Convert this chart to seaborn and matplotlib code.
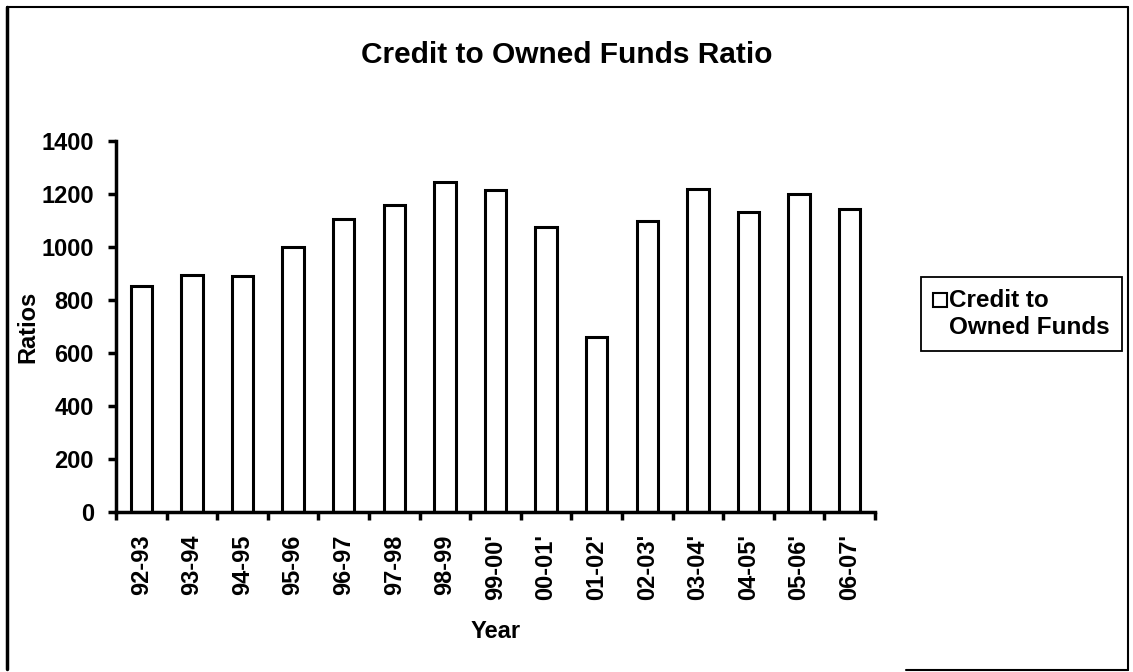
import matplotlib
matplotlib.use("Agg")
import matplotlib.pyplot as plt
from matplotlib.patches import Patch, Rectangle
from matplotlib.lines import Line2D
from matplotlib.legend_handler import HandlerPatch
from matplotlib.ticker import FixedLocator, MultipleLocator
import seaborn as sns
import pandas as pd
import numpy as np

# Financial years and credit-to-owned-funds ratios
years = ["92-93", "93-94", "94-95", "95-96", "96-97", "97-98", "98-99",
         "99-00'", "00-01'", "01-02'", "02-03'", "03-04'", "04-05'",
         "05-06'", "06-07'"]
ratios = [853, 894, 890, 1001, 1107, 1158, 1246, 1215, 1075, 660,
          1099, 1220, 1132, 1200, 1145]

series_label = "Credit to\nOwned Funds"
title = "Credit to Owned Funds Ratio"

sns.set_style("ticks")
plt.rcParams["font.family"] = ["Liberation Sans", "DejaVu Sans"]
plt.rcParams.update({"text.color": "black", "axes.labelcolor": "black",
                     "xtick.color": "black", "ytick.color": "black",
                     "axes.edgecolor": "black"})

df = pd.DataFrame({"Year": years, "Ratios": ratios})

fig = plt.figure(figsize=(11.33, 6.72), dpi=100)
ax = fig.add_axes([0.1024, 0.2381, 0.6699, 0.5521])

sns.barplot(data=df, x="Year", y="Ratios", ax=ax, width=0.42,
            color="white", edgecolor="black", linewidth=2.2,
            saturation=1, errorbar=None)

n = len(years)
ax.set_xlim(-0.5, n - 0.5)
ax.set_ylim(0, 1400)
ax.yaxis.set_major_locator(MultipleLocator(200))

# category labels centred, tick marks at the category boundaries
ax.tick_params(axis="x", which="major", length=0, pad=16)
ax.xaxis.set_minor_locator(FixedLocator(np.arange(-0.5, n, 1.0)))
ax.tick_params(axis="x", which="minor", length=6, width=2.5, color="black",
               direction="out")
ax.tick_params(axis="y", which="major", length=6, width=2.5, color="black",
               direction="out", pad=10)

for lab in ax.get_xticklabels():
    lab.set_rotation(90)
    lab.set_fontsize(17)
    lab.set_fontweight("bold")
for lab in ax.get_yticklabels():
    lab.set_fontsize(17)
    lab.set_fontweight("bold")

sns.despine(ax=ax, top=True, right=True)
for side in ("left", "bottom"):
    ax.spines[side].set_linewidth(2.5)
    ax.spines[side].set_color("black")

ax.set_xlabel("Year", fontsize=17, fontweight="bold", labelpad=14)
ax.set_ylabel("Ratios", fontsize=17, fontweight="bold", labelpad=1)

fig.text(0.5, 0.918, title, ha="center", va="center", fontsize=21.5,
         fontweight="bold", color="black")


# legend key sits beside the first line of the two-line label
def top_aligned_square(legend, orig_handle, xdescent, ydescent,
                       width, height, fontsize):
    side = width
    return Rectangle((-xdescent, -ydescent + 0.62 * fontsize), side, side)


handle = Patch(facecolor="white", edgecolor="black", linewidth=1.5)
leg = fig.legend([handle], [series_label], loc="upper left",
                 bbox_to_anchor=(0.813, 0.5878), borderaxespad=0,
                 frameon=True, fancybox=False, edgecolor="black",
                 framealpha=1, handlelength=0.55, handleheight=0.55,
                 handletextpad=0.1, borderpad=0.5, labelspacing=0.2,
                 handler_map={Patch: HandlerPatch(patch_func=top_aligned_square)},
                 prop={"size": 17.5, "weight": "bold"})
leg.get_frame().set_linewidth(1.3)
leg.get_frame().set_facecolor("white")
for txt in leg.get_texts():
    txt.set_color("black")

# outer chart frame
frame_kw = dict(color="black", transform=fig.transFigure, clip_on=False)
fig.add_artist(Line2D([0.0062, 0.0062], [0.005, 0.99], linewidth=2.5, **frame_kw))
fig.add_artist(Line2D([0.0062, 0.996], [0.99, 0.99], linewidth=1.5, **frame_kw))
fig.add_artist(Line2D([0.996, 0.996], [0.003, 0.99], linewidth=1.5, **frame_kw))
fig.add_artist(Line2D([0.80, 0.996], [0.003, 0.003], linewidth=1.5, **frame_kw))

fig.savefig("out.png", dpi=100, facecolor="white")
